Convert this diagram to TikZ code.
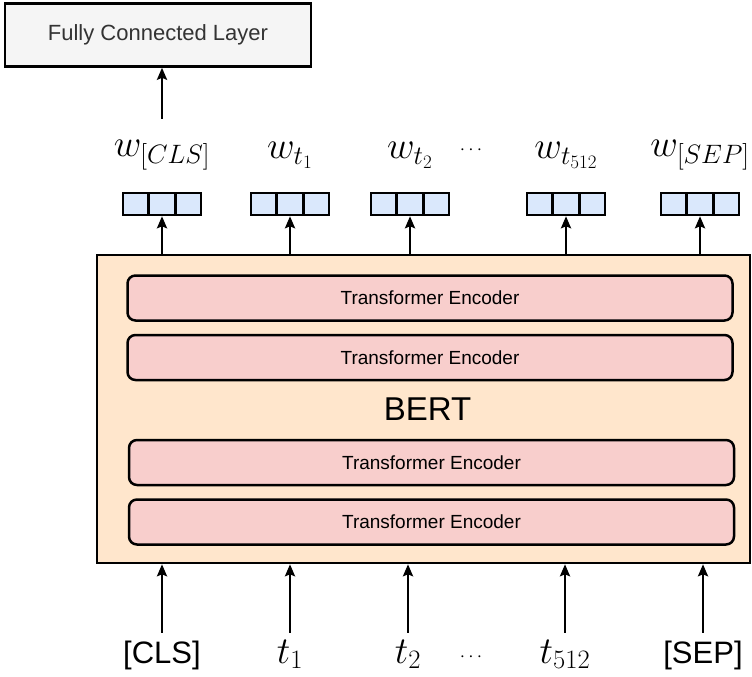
\RequirePackage{fix-cm}
\documentclass[tikz,border=0pt]{standalone}
\usepackage[no-math]{fontspec}
\setmainfont{Liberation Sans}
\usetikzlibrary{shapes.multipart, arrows.meta}
\definecolor{fcgray}{HTML}{F5F5F5}
\definecolor{fctext}{HTML}{333333}
\definecolor{bertfill}{HTML}{FFE6CC}
\definecolor{encfill}{HTML}{F8CECC}
\definecolor{vecfill}{HTML}{DAE8FC}
\tikzstyle{fclayer} = [rectangle, minimum width=306pt, minimum height=63pt, text centered, draw=black, line width=2.5pt, fill=fcgray, text=fctext, font=\fontsize{22}{26}\selectfont]
\tikzstyle{bertbox} = [rectangle, minimum width=653pt, minimum height=308pt, text centered, draw=black, line width=2.5pt, fill=bertfill, font=\fontsize{33}{38}\selectfont]
\tikzstyle{encoder} = [rectangle, rounded corners=8pt, minimum width=605pt, minimum height=45pt, text centered, draw=black, line width=2.5pt, fill=encfill, font=\fontsize{19}{23}\selectfont]
\tikzstyle{vec} = [rectangle split, rectangle split horizontal, rectangle split parts=3, rectangle split empty part width=9pt, inner xsep=5pt, inner ysep=0pt, minimum height=22pt, draw=black, line width=2.5pt, fill=vecfill]
\tikzstyle{wlabel} = [font=\fontsize{38}{44}\selectfont]
\tikzstyle{token} = [anchor=base, text height=28pt, text depth=8pt, inner sep=2pt, font=\fontsize{31}{36}\selectfont]
\tikzstyle{arrow} = [line width=2.5pt,-{Stealth[length=12pt,width=10pt,inset=2pt]}]

\begin{document}
\begin{tikzpicture}[x=1pt, y=-1pt, node distance=49pt]
    \useasboundingbox (0,0) rectangle (752,677);
    \node (fc) [fclayer] at (158,35) {Fully Connected Layer};
    \node (bert) [bertbox] at (423.5,409) {\hspace*{8pt}BERT};
    \node (enc1) [encoder] at (430,298) {Transformer Encoder};
    \node (enc2) [encoder] at (430,357.5) {Transformer Encoder};
    \node (enc3) [encoder] at (431.5,462.5) {Transformer Encoder};
    \node (enc4) [encoder] at (431.5,522) {Transformer Encoder};

    \node (vcls) [vec] at (162,204) {};
    \node (vt1) [vec] at (290,204) {};
    \node (vt2) [vec] at (410,204) {};
    \node (vt512) [vec] at (566,204) {};
    \node (vsep) [vec] at (700,204) {};
    \node (wcls) [wlabel, above of=vcls] {$w_{[CLS]}$};
    \node (wt1) [wlabel, above of=vt1] {$w_{t_1}$};
    \node (wt2) [wlabel, above of=vt2] {$w_{t_2}$};
    \node (wdots) [font=\fontsize{19}{23}\selectfont] at (471,150) {$\cdots$};
    \node (wt512) [wlabel, above of=vt512] {$w_{t_{512}}$};
    \node (wsep) [wlabel, above of=vsep] {$w_{[SEP]}$};

    \node (cls) [token] at (162,663) {[CLS]};
    \node (t1) [token, font=\fontsize{38}{44}\selectfont] at (290,663) {$t_1$};
    \node (t2) [token, font=\fontsize{38}{44}\selectfont] at (408,663) {$t_2$};
    \node (tdots) [font=\fontsize{19}{23}\selectfont] at (471,657) {$\cdots$};
    \node (t512) [token, font=\fontsize{38}{44}\selectfont] at (565,663) {$t_{512}$};
    \node (sep) [token] at (703,663) {[SEP]};

    \draw [arrow, shorten <=18pt] (wcls.north) -- (wcls.north |- fc.south);
    \draw [arrow] (vcls.south |- bert.north) -- (vcls);
    \draw [arrow] (vt1.south |- bert.north) -- (vt1);
    \draw [arrow] (vt2.south |- bert.north) -- (vt2);
    \draw [arrow] (vt512.south |- bert.north) -- (vt512);
    \draw [arrow] (vsep.south |- bert.north) -- (vsep);

    \draw [arrow] (cls) -- (cls |- bert.south);
    \draw [arrow] (t1) -- (t1 |- bert.south);
    \draw [arrow] (t2) -- (t2 |- bert.south);
    \draw [arrow] (t512) -- (t512 |- bert.south);
    \draw [arrow] (sep) -- (sep |- bert.south);

\end{tikzpicture}
\end{document}
